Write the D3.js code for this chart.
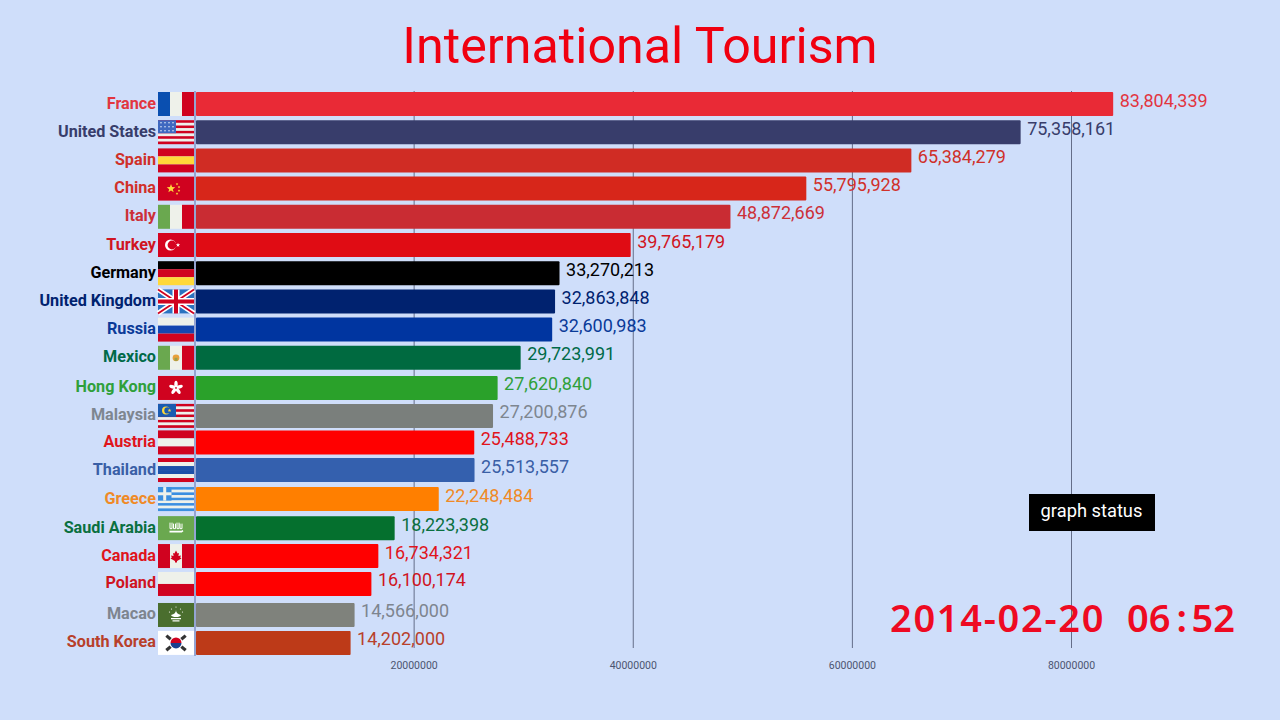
<!DOCTYPE html>
<html>
<head>
<meta charset="utf-8">
<title>International Tourism</title>
<script src="https://cdn.jsdelivr.net/npm/d3@7"></script>
<style>
html,body{margin:0;padding:0;background:#cfdefa;overflow:hidden}
text{font-family:Roboto,sans-serif}
</style>
</head>
<body>
<script>
const countries=["France","United States","Spain","China","Italy","Turkey","Germany","United Kingdom","Russia","Mexico","Hong Kong","Malaysia","Austria","Thailand","Greece","Saudi Arabia","Canada","Poland","Macao","South Korea"]
const visitors=[83804339,75358161,65384279,55795928,48872669,39765179,33270213,32863848,32600983,29723991,27620840,27200876,25488733,25513557,22248484,18223398,16734321,16100174,14566000,14202000]
// rows are caught mid animation, so ranks are not whole numbers
const ranks=[0,1,2,3,4,5,6,7,8,9,10.07,11.06,12,12.98,14.01,15.04,16.03,17.02,18.12,19.11]
const barColors=["#e92a36","#383d6b","#d02c24","#d7261a","#c92c33","#e00c14","#000000","#00226f","#0035a0","#006a40","#2aa12a","#7a7f7c","#ff0000","#3460ae","#ff7f00","#05702e","#ff0000","#ff0000","#7f827c","#bd3a18"]
const labelColors=["#e2353f","#383d6b","#cf3029","#d1302a","#cc3038","#d01422","#000000","#00226f","#0a3a98","#006a48","#2fa03a","#7e8690","#e0141c","#3a5fa6","#ef8a27","#0a7040","#e0141c","#d0141f","#7e858f","#b8402a"]
const axisTicks=[20000000,40000000,60000000,80000000]

const width=1280
const height=720

const x=d3.scaleLinear().domain([0,80000000]).range([195,1071.5])
const y=d3.scaleLinear().domain([0,1]).range([104,132.2])
const barH=24
const flagX=158
const flagW=36

const svg=d3.select("body")
.append("svg")
.attr("width",width)
.attr("height",height)
.style("display","block")

svg.append("rect")
.attr("width",width)
.attr("height",height)
.attr("fill","#cfdefa")

svg.append("text")
.attr("x",640)
.attr("y",63)
.attr("text-anchor","middle")
.attr("font-size",50.2)
.attr("fill","#f00010")
.text("International Tourism")

const axis=d3.axisBottom(x)
.tickValues(axisTicks)
.tickSize(-557)
.tickPadding(14)
.offset(0)
.tickFormat(d3.format("d"))

const axisG=svg.append("g")
.attr("transform","translate(0,648)")
.call(axis)

axisG.select(".domain").remove()
axisG.selectAll("line").attr("stroke","#646d88").attr("stroke-width",1)
axisG.selectAll("text").attr("fill","#4c5470").attr("font-size",10.5).attr("font-family","Roboto,sans-serif")

svg.append("line")
.attr("x1",x(0))
.attr("x2",x(0))
.attr("y1",91)
.attr("y2",656)
.attr("stroke","#8090c4")
.attr("stroke-width",1.5)

const rows=d3.range(countries.length)

svg.selectAll(".bar")
.data(rows)
.enter()
.append("rect")
.attr("class","bar")
.attr("x",x(0)+1)
.attr("y",i=>y(ranks[i])-barH/2)
.attr("width",i=>x(visitors[i])-x(0)-1)
.attr("height",barH)
.attr("rx",1)
.attr("fill",i=>barColors[i])

svg.selectAll(".name")
.data(rows)
.enter()
.append("text")
.attr("class","name")
.attr("x",156)
.attr("y",i=>y(ranks[i])+4.5)
.attr("text-anchor","end")
.attr("font-size",16.2)
.attr("font-weight",700)
.attr("fill",i=>labelColors[i])
.text(i=>countries[i])

svg.selectAll(".value")
.data(rows)
.enter()
.append("text")
.attr("class","value")
.attr("x",i=>x(visitors[i])+6.5)
.attr("y",i=>y(ranks[i])+2.5)
.attr("font-size",18)
.attr("fill",i=>labelColors[i])
.text(i=>d3.format(",")(visitors[i]))

// flags
const RED="#d0021f"
const WHT="#eef1ea"
const BLU="#0a4fb0"
const GRN="#6aa84f"
const YEL="#ffd83a"

const hStripes={
"United States":[RED,WHT,RED,WHT,RED,WHT,RED,WHT,RED],
"Spain":[RED,YEL,RED],
"Germany":["#000000",RED,YEL],
"Russia":[WHT,"#1446b0",RED],
"Malaysia":[RED,WHT,RED,WHT,RED,WHT,RED,WHT,RED],
"Austria":[RED,WHT,RED],
"Thailand":[RED,WHT,"#1d50a8","#1d50a8",WHT,RED],
"Greece":["#3b8fe0",WHT,"#3b8fe0",WHT,"#3b8fe0",WHT,"#3b8fe0",WHT,"#3b8fe0"],
"Poland":[WHT,RED]
}
const vStripes={
"France":[BLU,WHT,RED],
"Italy":[GRN,WHT,RED],
"Mexico":[GRN,WHT,RED],
"Canada":[RED,WHT,RED]
}
const solid={
"China":RED,
"Turkey":"#d5021f",
"Hong Kong":"#d0021f",
"Saudi Arabia":GRN,
"Macao":"#4a6e2e",
"South Korea":"#ffffff",
"United Kingdom":"#2a72c0"
}

function star(cx,cy,r){
const pts=[]
for(let k=0;k<10;k++){
const a=-Math.PI/2+k*Math.PI/5
const rr=k%2?r*0.42:r
pts.push((cx+rr*Math.cos(a))+","+(cy+rr*Math.sin(a)))
}
return pts.join(" ")
}

const emblems={
"United States":g=>{
g.append("rect").attr("width",18).attr("height",13).attr("fill","#3f68c0")
for(let r=0;r<3;r++)for(let c=0;c<4;c++)g.append("circle").attr("cx",3+c*4).attr("cy",2.5+r*4).attr("r",0.8).attr("fill","#dfe8f8")
},
"Malaysia":g=>{
g.append("rect").attr("width",18).attr("height",13).attr("fill","#1a5bb0")
g.append("circle").attr("cx",8).attr("cy",6.5).attr("r",4).attr("fill",YEL)
g.append("circle").attr("cx",9.5).attr("cy",6.5).attr("r",3.2).attr("fill","#1a5bb0")
g.append("polygon").attr("points",star(11.5,6.5,2)).attr("fill",YEL)
},
"Greece":g=>{
g.append("rect").attr("width",13.5).attr("height",13.5).attr("fill","#3b8fe0")
g.append("rect").attr("x",5.2).attr("width",3).attr("height",13.5).attr("fill",WHT)
g.append("rect").attr("y",5.2).attr("width",13.5).attr("height",3).attr("fill",WHT)
},
"China":g=>{
g.append("polygon").attr("points",star(13,12,4.5)).attr("fill",YEL)
const small=[[19,7.5],[21,10.5],[21,14],[19,17]]
small.forEach(p=>g.append("polygon").attr("points",star(p[0],p[1],1.4)).attr("fill",YEL))
},
"Turkey":g=>{
g.append("circle").attr("cx",12.5).attr("cy",12).attr("r",5.5).attr("fill","#fff")
g.append("circle").attr("cx",14).attr("cy",12).attr("r",4.4).attr("fill","#d5021f")
g.append("polygon").attr("points",star(20,12,2.3)).attr("fill","#fff")
},
"Mexico":g=>{
g.append("circle").attr("cx",18).attr("cy",12).attr("r",3.4).attr("fill","#e8a03a")
g.append("rect").attr("x",16.5).attr("y",12).attr("width",3).attr("height",3).attr("fill","#9aa04a")
},
"Canada":g=>{
g.append("polygon")
.attr("points","18,6.5 19.6,9.5 21,9 20.4,12 23,11.5 22.2,13.5 23.5,14.5 19,17 19,18.5 17,18.5 17,17 12.5,14.5 13.8,13.5 13,11.5 15.6,12 15,9 16.4,9.5")
.attr("fill",RED)
},
"Hong Kong":g=>{
for(let k=0;k<5;k++){
g.append("ellipse").attr("cx",18).attr("cy",8.5).attr("rx",1.7).attr("ry",3.6)
.attr("transform","rotate("+(k*72)+",18,12)").attr("fill","#fff")
}
g.append("circle").attr("cx",18).attr("cy",12).attr("r",0.9).attr("fill","#d0021f")
},
"Saudi Arabia":g=>{
g.append("path").attr("d","M12 6.5v6h2v-6m1.5 1v5h2v-5m1.5 -1v6h2v-6m1 1v5h2v-5")
.attr("fill","none").attr("stroke","#fff").attr("stroke-width",1)
g.append("path").attr("d","M11.5 15.5h12l1.5-1").attr("fill","none").attr("stroke","#fff").attr("stroke-width",1.6)
},
"Macao":g=>{
g.append("path").attr("d","M13 12q5 -1 5 -5q0 4 5 5q-1 2 -5 2q-4 0 -5 -2z").attr("fill","#fff")
g.append("rect").attr("x",13).attr("y",15).attr("width",10).attr("height",1.3).attr("fill","#fff")
g.append("rect").attr("x",14.5).attr("y",17.3).attr("width",7).attr("height",1.2).attr("fill","#fff")
const dots=[[18,4],[13.5,6],[22.5,6],[11.5,9],[24.5,9]]
dots.forEach(p=>g.append("circle").attr("cx",p[0]).attr("cy",p[1]).attr("r",0.6).attr("fill","#fff"))
},
"South Korea":g=>{
g.append("path").attr("d","M12.5 12a5.5 5.5 0 0 1 11 0z").attr("fill","#d0021f")
g.append("path").attr("d","M12.5 12a5.5 5.5 0 0 0 11 0z").attr("fill","#1a3f8f")
const bars=[[10.5,6.5,40],[25.5,6.5,-40],[10.5,17.5,-40],[25.5,17.5,40]]
bars.forEach(b=>{
g.append("rect").attr("x",b[0]-2.8).attr("y",b[1]-1.6).attr("width",5.6).attr("height",3.2)
.attr("transform","rotate("+b[2]+","+b[0]+","+b[1]+")").attr("fill","#333")
})
},
"United Kingdom":g=>{
g.append("path").attr("d","M0 0L36 24M36 0L0 24").attr("stroke","#fff").attr("stroke-width",5)
g.append("path").attr("d","M0 0L36 24M36 0L0 24").attr("stroke",RED).attr("stroke-width",1.8)
g.append("path").attr("d","M18 0V24M0 12H36").attr("stroke","#fff").attr("stroke-width",7)
g.append("path").attr("d","M18 0V24M0 12H36").attr("stroke",RED).attr("stroke-width",4)
}
}

const flags=svg.selectAll(".flag")
.data(rows)
.enter()
.append("g")
.attr("class","flag")
.attr("transform",i=>"translate("+flagX+","+(y(ranks[i])-barH/2)+")")

flags.each(function(i){
const g=d3.select(this)
const name=countries[i]
if(hStripes[name]){
const band=d3.scaleBand().domain(d3.range(hStripes[name].length)).range([0,barH])
hStripes[name].forEach((c,k)=>g.append("rect").attr("y",band(k)).attr("width",flagW).attr("height",band.bandwidth()).attr("fill",c))
}else if(vStripes[name]){
const band=d3.scaleBand().domain(d3.range(3)).range([0,flagW])
vStripes[name].forEach((c,k)=>g.append("rect").attr("x",band(k)).attr("width",band.bandwidth()).attr("height",barH).attr("fill",c))
}else{
g.append("rect").attr("width",flagW).attr("height",barH).attr("fill",solid[name])
}
if(emblems[name])emblems[name](g)
})

// status box and clock
svg.append("rect")
.attr("x",1029)
.attr("y",494)
.attr("width",126)
.attr("height",37)
.attr("fill","#000")

svg.append("text")
.attr("x",1091.5)
.attr("y",516.5)
.attr("text-anchor","middle")
.attr("font-size",18.3)
.attr("fill","#fff")
.text("graph status")

const clockParts=["2014-02-20","06",":","52"]
const clockX=[890,1127,1176.5,1191.5]
const clockSpacing=[1.7,0,0,0]
svg.selectAll(".clock")
.data(clockParts)
.enter()
.append("text")
.attr("class","clock")
.attr("x",(d,k)=>clockX[k])
.attr("y",632)
.attr("font-size",38)
.attr("font-weight",600)
.attr("letter-spacing",(d,k)=>clockSpacing[k])
.attr("fill","#ee0a22")
.style("font-family","'Noto Sans',sans-serif")
.text(d=>d)
</script>
</body>
</html>
